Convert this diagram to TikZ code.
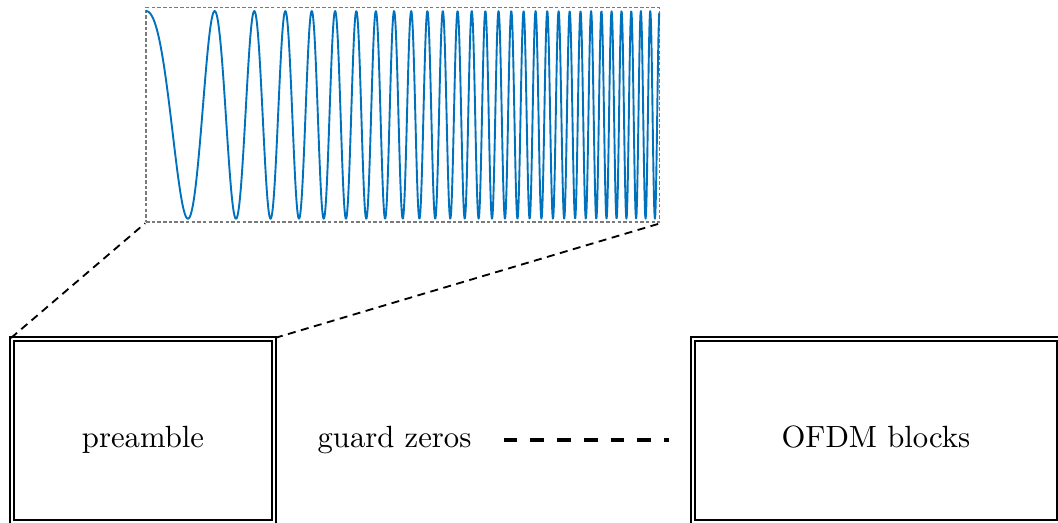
\documentclass[tikz,border=0pt]{standalone}
\begin{document}
\begin{tikzpicture}[x=0.3257pt, y=-0.3257pt,
  frame/.style={draw, line width=0.68pt, double, double distance=0.62pt,
    minimum height=59.6pt, inner sep=0pt, text height=13.2pt, text depth=2pt},
  window/.style={draw=black!52, line width=0.6pt, dash pattern=on 1.15pt off 0.7pt,
    minimum width=167.2pt, minimum height=70pt, inner sep=0pt},
  chirp/.style={draw={rgb,255:red,0;green,114;blue,189}, line width=0.62pt, line join=round},
  zoomline/.style={draw, line width=0.6pt, dash pattern=on 2.6pt off 1.8pt},
  gapline/.style={draw, line width=1.1pt, dash pattern=on 4.45pt off 4.25pt,
    shorten <=7pt, shorten >=7.4pt}]
\useasboundingbox (0,0) rectangle (1058,523);
\clip (0,0) rectangle (1058,523);

% frame structure
\node[frame, minimum width=85.3pt] (pre) at (143,430.5) {preamble};
\node[frame, minimum width=119.1pt] (ofdm) at (875.9,430.5) {OFDM blocks};
\node (guard) at (394.5,440) {guard zeros};
\draw[gapline] (guard.east) -- (guard.east -| ofdm.west);

% zoomed view of the preamble: linear chirp
\node[window] (win) at (402.75,114.9) {};
\draw[chirp] plot[domain=0:1, samples=1401]
  ({146+513.5*\x}, {114.9-103.8*cos(360*(4*\x+26*\x*\x))});

\draw[zoomline] (pre.north west) -- (win.south west);
\draw[zoomline] (pre.north east) -- (win.south east);
\end{tikzpicture}
\end{document}
